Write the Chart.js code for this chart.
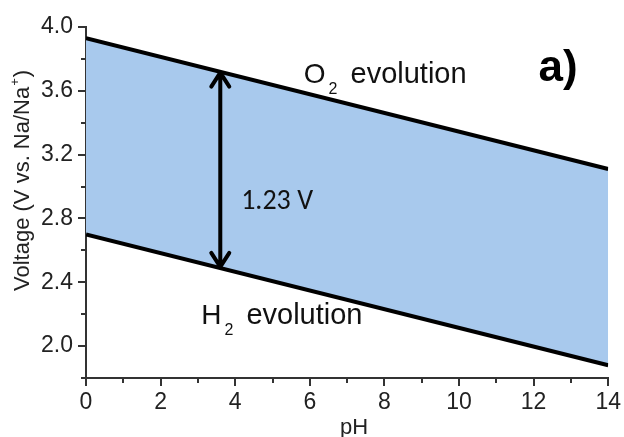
<!DOCTYPE html>
<html>
<head>
<meta charset="utf-8">
<style>
  html, body { margin: 0; padding: 0; background: #fff; }
  #wrap { width: 624px; height: 437px; }
</style>
<script src="https://cdn.jsdelivr.net/npm/chart.js@4.4.1/dist/chart.umd.min.js"></script>
</head>
<body>
<div id="wrap"><canvas id="c" width="624" height="437"></canvas></div>
<script>
// Water stability window vs. Na/Na+ as a function of pH
const phPoints    = [0, 14];
const o2Evolution = [3.93, 3.11];   // V vs. Na/Na+
const h2Evolution = [2.70, 1.88];   // V vs. Na/Na+

const xMajorTicks = [0, 2, 4, 6, 8, 10, 12, 14];
const xTickLabels = ['0', '2', '4', '6', '8', '10', '12', '14'];
const xMinorTicks = [1, 3, 5, 7, 9, 11, 13];
const yMajorTicks = [2.0, 2.4, 2.8, 3.2, 3.6, 4.0];
const yTickLabels = ['2.0', '2.4', '2.8', '3.2', '3.6', '4.0'];
const yMinorTicks = [1.8, 2.2, 2.6, 3.0, 3.4, 3.8];

// Double arrow marking the 1.23 V window
const windowPH  = 3.6;
const windowLow = 2.49;
const windowGap = 1.23;

const SANS = '"Liberation Sans", Arial, Helvetica, sans-serif';
const FILL_BLUE = 'rgb(168,201,237)';
const AXIS_GREY = '#333';

const toPoints = ys => phPoints.map((x, i) => ({ x, y: ys[i] }));
const near = (a, b) => Math.abs(a - b) < 1e-6;
const labelFor = (v, majors, labels) => {
  const i = majors.findIndex(m => near(m, v));
  return i >= 0 ? labels[i] : '';
};

// Major/minor tick marks of different lengths
const tickMarks = {
  id: 'tickMarks',
  afterDraw(chart) {
    const { ctx } = chart;
    const xs = chart.scales.x, ys = chart.scales.y;
    ctx.save();
    ctx.strokeStyle = AXIS_GREY;
    ctx.lineWidth = 2;
    ctx.beginPath();
    xs.ticks.forEach(t => {
      const px = Math.round(xs.getPixelForValue(t.value));
      const len = xMajorTicks.some(m => near(m, t.value)) ? 8 : 5;
      ctx.moveTo(px, xs.top);
      ctx.lineTo(px, xs.top + len);
    });
    ys.ticks.forEach(t => {
      const py = Math.round(ys.getPixelForValue(t.value));
      const len = yMajorTicks.some(m => near(m, t.value)) ? 8 : 5;
      ctx.moveTo(ys.right, py);
      ctx.lineTo(ys.right - len, py);
    });
    ctx.stroke();
    ctx.restore();
  }
};

// Arrow, annotations and axis titles
const annotations = {
  id: 'annotations',
  afterDraw(chart) {
    const { ctx } = chart;
    const xs = chart.scales.x, ys = chart.scales.y;
    ctx.save();

    // double-headed arrow
    const ax = xs.getPixelForValue(windowPH);
    const yTop = ys.getPixelForValue(windowLow + windowGap);
    const yBot = ys.getPixelForValue(windowLow);
    ctx.strokeStyle = '#000';
    ctx.lineWidth = 4;
    ctx.lineCap = 'round';
    ctx.lineJoin = 'round';
    ctx.beginPath();
    ctx.moveTo(ax, yTop + 1);
    ctx.lineTo(ax, yBot - 1);
    ctx.moveTo(ax - 9, yTop + 15);
    ctx.lineTo(ax, yTop + 1);
    ctx.lineTo(ax + 9, yTop + 15);
    ctx.moveTo(ax - 9, yBot - 15);
    ctx.lineTo(ax, yBot - 1);
    ctx.lineTo(ax + 9, yBot - 15);
    ctx.stroke();

    ctx.fillStyle = '#111';
    ctx.textBaseline = 'alphabetic';
    ctx.textAlign = 'left';

    // window size
    ctx.font = '28px Carlito, Lato, "Open Sans", sans-serif';
    ctx.fillText('1.23 V', xs.getPixelForValue(4.16), ys.getPixelForValue(2.862));

    // species labels with subscripts
    const species = (main, sub, rest, pH, v) => {
      let x = xs.getPixelForValue(pH);
      const y = ys.getPixelForValue(v);
      ctx.font = '28px ' + SANS;
      ctx.fillText(main, x, y);
      x += ctx.measureText(main).width + 3;
      ctx.font = '16px ' + SANS;
      ctx.fillText(sub, x, y + 11);
      x += ctx.measureText(sub).width + 13;
      ctx.font = '29px ' + SANS;
      ctx.fillText(rest, x, y);
    };
    species('O', '2', 'evolution', 5.84, 3.65);
    species('H', '2', 'evolution', 3.09, 2.137);

    // panel letter
    ctx.font = 'bold 44px ' + SANS;
    ctx.fillStyle = '#000';
    ctx.fillText('a)', xs.getPixelForValue(12.13), ys.getPixelForValue(3.662));

    // axis titles
    ctx.fillStyle = '#222';
    ctx.font = '22px ' + SANS;
    ctx.textAlign = 'center';
    ctx.fillText('pH', (xs.left + xs.right) / 2 + 7, 434);

    ctx.save();
    ctx.translate(29, 291);
    ctx.rotate(-Math.PI / 2);
    ctx.textAlign = 'left';
    ctx.font = '22px ' + SANS;
    const base = 'Voltage (V vs. Na/Na';
    ctx.fillText(base, 0, 0);
    let tx = ctx.measureText(base).width + 1;
    ctx.font = '13px ' + SANS;
    ctx.fillText('+', tx, -10);
    tx += ctx.measureText('+').width + 1;
    ctx.font = '22px ' + SANS;
    ctx.fillText(')', tx, 0);
    ctx.restore();

    ctx.restore();
  }
};

new Chart(document.getElementById('c'), {
  type: 'line',
  data: {
    datasets: [
      {
        label: 'O2 evolution',
        data: toPoints(o2Evolution),
        borderColor: '#000',
        borderWidth: 4,
        pointRadius: 0,
        fill: '+1',
        backgroundColor: FILL_BLUE
      },
      {
        label: 'H2 evolution',
        data: toPoints(h2Evolution),
        borderColor: '#000',
        borderWidth: 4,
        pointRadius: 0,
        fill: false
      }
    ]
  },
  options: {
    responsive: false,
    animation: false,
    devicePixelRatio: 1,
    layout: { padding: { left: 0, right: 13, top: 27, bottom: 0 } },
    plugins: {
      legend: { display: false },
      tooltip: { enabled: false },
      filler: { drawTime: 'beforeDatasetsDraw' }
    },
    scales: {
      x: {
        type: 'linear',
        min: 0,
        max: 14,
        afterBuildTicks: s => {
          s.ticks = [...xMajorTicks, ...xMinorTicks].sort((a, b) => a - b).map(v => ({ value: v }));
        },
        afterFit: s => { s.height = 59; },
        ticks: {
          autoSkip: false,
          maxRotation: 0,
          padding: 3,
          color: '#222',
          font: { family: SANS, size: 23 },
          callback: v => labelFor(v, xMajorTicks, xTickLabels)
        },
        grid: { display: true, drawOnChartArea: false, drawTicks: true, tickLength: 8, tickColor: 'rgba(0,0,0,0)' },
        border: { display: true, color: AXIS_GREY, width: 2 }
      },
      y: {
        type: 'linear',
        min: 1.8,
        max: 4.0,
        afterBuildTicks: s => {
          s.ticks = [...yMajorTicks, ...yMinorTicks].sort((a, b) => a - b).map(v => ({ value: v }));
        },
        afterFit: s => { s.width = 86; },
        ticks: {
          autoSkip: false,
          padding: 5,
          color: '#222',
          font: { family: SANS, size: 23 },
          callback: v => labelFor(v, yMajorTicks, yTickLabels)
        },
        grid: { display: true, drawOnChartArea: false, drawTicks: true, tickLength: 8, tickColor: 'rgba(0,0,0,0)' },
        border: { display: true, color: AXIS_GREY, width: 2 }
      }
    }
  },
  plugins: [tickMarks, annotations]
});
</script>
</body>
</html>
